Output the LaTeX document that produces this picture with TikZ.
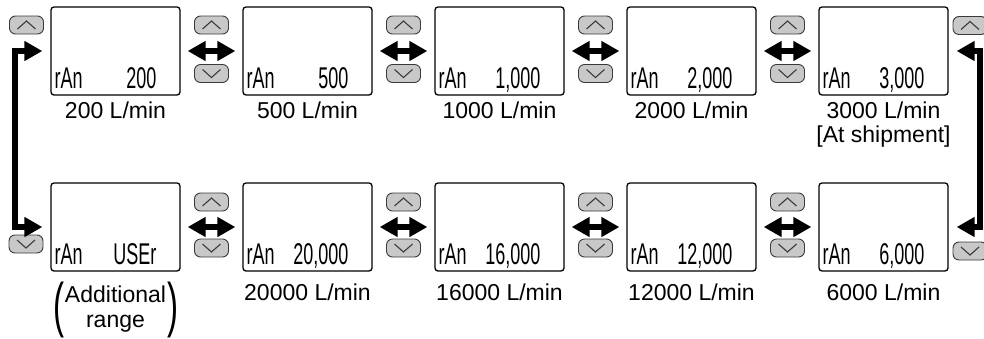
\documentclass[tikz,border=0pt]{standalone}
\usepackage{fontspec}
\usepackage{graphicx}
\setmainfont{Liberation Sans}
\newfontfamily\lcdfont{Liberation Sans}
\usetikzlibrary{arrows.meta,calc}
\definecolor{btngray}{HTML}{C8C8C8}
\definecolor{btnline}{HTML}{3A3A3A}
\newcommand{\lcdtxt}[1]{\scalebox{0.6}[1]{\lcdfont\fontsize{30}{30}\selectfont #1}}
\newcommand{\bigparen}[1]{\scalebox{0.55}[1]{\fontsize{60}{60}\selectfont #1}}
\begin{document}
\begin{tikzpicture}[x=1pt,y=-1pt,
  lcdbox/.style={draw, line width=1.3pt, rounded corners=3pt, minimum width=129pt, minimum height=88pt, inner sep=0pt},
  lcdleft/.style={anchor=base west, inner sep=0pt},
  lcdright/.style={anchor=base east, inner sep=0pt},
  btn/.style={draw=btnline, line width=0.9pt, fill=btngray, rounded corners=6pt, minimum width=34pt, minimum height=18pt, inner sep=0pt},
  chev/.style={draw=btnline, line width=1.1pt, line join=miter},
  dbl/.style={line width=6pt, {Triangle[length=18pt,width=19pt]}-{Triangle[length=18pt,width=19pt]}, shorten <=7pt, shorten >=7pt},
  loopc/.style={line width=6pt, line join=miter, {Triangle[length=18pt,width=19pt]}-{Triangle[length=18pt,width=19pt]}, shorten <=8pt, shorten >=8pt},
  lbl/.style={anchor=base, inner sep=0pt, font=\fontsize{23}{25}\selectfont}
]
\useasboundingbox (0,0) rectangle (984,338);
\clip (0,0) rectangle (984,338);

% top row displays
\node[lcdbox] (b1) at (115.5,51) {};
\node[lcdbox] (b2) at (307.5,51) {};
\node[lcdbox] (b3) at (499.5,51) {};
\node[lcdbox] (b4) at (691.5,51) {};
\node[lcdbox] (b5) at (883.5,51) {};
% bottom row displays
\node[lcdbox] (b6) at (115.5,227) {};
\node[lcdbox] (b7) at (307.5,227) {};
\node[lcdbox] (b8) at (499.5,227) {};
\node[lcdbox] (b9) at (691.5,227) {};
\node[lcdbox] (b10) at (883.5,227) {};

% display texts
\foreach \b/\v in {b1/200, b2/500, b3/{1,000}, b4/{2,000}, b5/{3,000}, b6/USEr, b7/{20,000}, b8/{16,000}, b9/{12,000}, b10/{6,000}}{
  \node[lcdleft] (\b r) at ($(\b.south west)+(4,-7)$) {\lcdtxt{rAn}};
  \node[lcdright] (\b v) at ($(\b.south east)+(-24,-7)$) {\lcdtxt{\v}};
}

% buttons between columns
\foreach \x [count=\i] in {211.5,403.5,595.5,787.5}{
  \node[btn] (tu\i) at (\x,25) {};
  \node[btn] (td\i) at (\x,73.5) {};
  \node[btn] (bu\i) at (\x,202) {};
  \node[btn] (bd\i) at (\x,248) {};
}
% outer buttons
\node[btn] (lu) at (26.5,25) {};
\node[btn] (ld) at (26,244) {};
\node[btn] (ru) at (970,25.5) {};
\node[btn] (rd) at (970,251) {};

% chevrons on buttons
\foreach \n in {tu1,tu2,tu3,tu4,bu1,bu2,bu3,bu4,lu,ru}{
  \draw[chev] ($(\n.center)+(-9,4)$) -- ($(\n.center)+(0,-4)$) -- ($(\n.center)+(9,4)$);
}
\foreach \n in {td1,td2,td3,td4,bd1,bd2,bd3,bd4,ld,rd}{
  \draw[chev] ($(\n.center)+(-9,-4)$) -- ($(\n.center)+(0,4)$) -- ($(\n.center)+(9,-4)$);
}

% double arrows
\draw[dbl] (b1.east) -- (b2.west);
\draw[dbl] (b2.east) -- (b3.west);
\draw[dbl] (b3.east) -- (b4.west);
\draw[dbl] (b4.east) -- (b5.west);
\draw[dbl] (b6.east) -- (b7.west);
\draw[dbl] (b7.east) -- (b8.west);
\draw[dbl] (b8.east) -- (b9.west);
\draw[dbl] (b9.east) -- (b10.west);

% wrap-around connectors
\coordinate (lc) at (15,51);
\coordinate (rc) at (980,51);
\draw[loopc] (b1.west) -- (lc) |- (b6.west);
\draw[loopc] (b5.east) -- (rc) |- (b10.east);

% labels
\node[lbl] (l1) at (115.5,118) {200 L/min};
\node[lbl] (l2) at (307.5,118) {500 L/min};
\node[lbl] (l3) at (499.5,118) {1000 L/min};
\node[lbl] (l4) at (691.5,118) {2000 L/min};
\node[lbl] (l5) at (883.5,118) {3000 L/min};
\node[lbl] (l5b) at (883.5,142) {[At shipment]};
\node[lbl] (l7) at (307.5,300) {20000 L/min};
\node[lbl] (l8) at (499.5,300) {16000 L/min};
\node[lbl] (l9) at (691.5,300) {12000 L/min};
\node[lbl] (l10) at (883.5,300) {6000 L/min};
\node[inner sep=0pt, font=\fontsize{23}{25}\selectfont] (l6) at (115.5,310)
  {$\vcenter{\hbox{\bigparen{(}}}\hspace{1pt}\vcenter{\hbox{\begin{tabular}{@{}c@{}}Additional\\range\end{tabular}}}\hspace{1pt}\vcenter{\hbox{\bigparen{)}}}$};
\end{tikzpicture}
\end{document}
